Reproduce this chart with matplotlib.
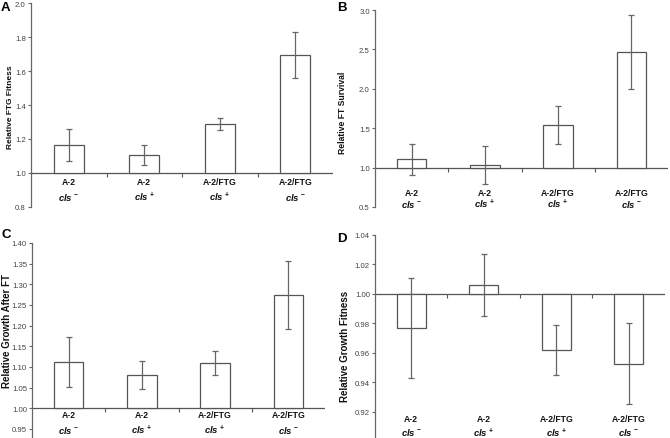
import matplotlib
matplotlib.use("Agg")
import matplotlib.pyplot as plt
import matplotlib.transforms as mtransforms
import numpy as np

plt.rcParams['font.family'] = ['Liberation Sans', 'DejaVu Sans']
plt.rcParams['mathtext.fontset'] = 'custom'
plt.rcParams['mathtext.it'] = 'Liberation Sans:italic:bold'
plt.rcParams['mathtext.rm'] = 'Liberation Sans:bold'

strains = ["A-2", "A-2", "A-2/FTG", "A-2/FTG"]
cls_signs = ["-", "+", "+", "-"]

# Panel A
a_vals = [1.165, 1.105, 1.290, 1.695]
a_lo = [1.070, 1.045, 1.255, 1.560]
a_hi = [1.260, 1.165, 1.325, 1.830]
# Panel B
b_vals = [1.110, 1.035, 1.545, 2.465]
b_lo = [0.910, 0.790, 1.300, 2.000]
b_hi = [1.305, 1.280, 1.780, 2.940]
# Panel C
c_vals = [1.112, 1.081, 1.110, 1.274]
c_lo = [1.052, 1.047, 1.081, 1.191]
c_hi = [1.172, 1.115, 1.139, 1.356]
# Panel D
d_vals = [0.977, 1.006, 0.962, 0.952]
d_lo = [0.943, 0.985, 0.945, 0.925]
d_hi = [1.011, 1.027, 0.979, 0.980]

a_ticks = [0.8, 1.0, 1.2, 1.4, 1.6, 1.8, 2.0]
b_ticks = [0.5, 1.0, 1.5, 2.0, 2.5, 3.0]
c_ticks = [0.95, 1.00, 1.05, 1.10, 1.15, 1.20, 1.25, 1.30, 1.35, 1.40]
d_ticks = [0.92, 0.94, 0.96, 0.98, 1.00, 1.02, 1.04]

W, H = 670, 439
fig = plt.figure(figsize=(W / 100, H / 100), dpi=100)

def rect(l, r, t, b):
    return [l / W, 1 - b / H, (r - l) / W, (b - t) / H]

GRAY = '#555555'

panels = [
    dict(letter='A', rect=rect(31, 333, 4, 208), vals=a_vals, lo=a_lo, hi=a_hi,
         ylim=(0.8, 2.0), ticks=a_ticks, fmt='{:.1f}', ylabel='Relative FTG Fitness',
         lab_y=(0.123, 0.052), letter_xy=(1, 8), ylab_xy=(11, 107), ylab_fs=6.0),
    dict(letter='B', rect=rect(375, 668, 11, 208), vals=b_vals, lo=b_lo, hi=b_hi,
         ylim=(0.5, 3.0), ticks=b_ticks, fmt='{:.1f}', ylabel='Relative FT Survival',
         lab_y=(0.072, 0.016), letter_xy=(337, 8), ylab_xy=(342, 113), ylab_fs=6.2),
    dict(letter='C', rect=rect(32, 325, 244, 439), vals=c_vals, lo=c_lo, hi=c_hi,
         ylim=(0.928, 1.40), ticks=c_ticks, fmt='{:.2f}', ylabel='Relative Growth After FT',
         lab_y=(0.123, 0.046), letter_xy=(1, 235), ylab_xy=(7, 331), ylab_fs=7.0),
    dict(letter='D', rect=rect(375, 665, 236, 439), vals=d_vals, lo=d_lo, hi=d_hi,
         ylim=(0.902, 1.04), ticks=d_ticks, fmt='{:.2f}', ylabel='Relative Growth Fitness',
         lab_y=(0.094, 0.030), letter_xy=(337, 239), ylab_xy=(345, 346), ylab_fs=7.0),
]

for p in panels:
    ax = fig.add_axes(p['rect'])
    x = np.arange(len(p['vals']))
    vals = np.array(p['vals'])
    base = 1.0
    heights = vals - base
    yerr = [vals - np.array(p['lo']), np.array(p['hi']) - vals]
    ax.bar(x, heights, bottom=base, width=0.4, facecolor='white',
           edgecolor=GRAY, linewidth=0.9, zorder=2)
    ax.errorbar(x, vals, yerr=yerr, fmt='none', ecolor='#666666',
                elinewidth=0.9, capsize=2, capthick=0.9, zorder=3)
    ax.axhline(base, color=GRAY, linewidth=0.9, zorder=1)
    bx = np.arange(len(p['vals']) - 1) + 0.5
    ax.plot(bx, np.full(len(bx), base), linestyle='none', marker=3,
            markersize=3, color=GRAY, markeredgewidth=0.8)
    ax.set_xlim(-0.5, len(p['vals']) - 0.5)
    ax.set_ylim(*p['ylim'])
    ax.set_yticks(p['ticks'])
    ax.set_yticklabels([p['fmt'].format(t) for t in p['ticks']])
    ax.set_xticks([])
    for s in ['top', 'right', 'bottom']:
        ax.spines[s].set_visible(False)
    ax.spines['left'].set_color('#666666')
    ax.spines['left'].set_linewidth(0.9)
    ax.tick_params(axis='y', direction='out', length=2.5, width=0.8,
                   color='#666666', labelsize=5.6, labelcolor='#444444', pad=1.2)
    ax.patch.set_alpha(0)
    trans = mtransforms.blended_transform_factory(ax.transData, ax.transAxes)
    for i in range(len(p['vals'])):
        ax.text(x[i], p['lab_y'][0], strains[i], transform=trans, ha='center',
                va='center', fontsize=6.2, fontweight='bold', color='#111111')
        ax.text(x[i], p['lab_y'][1], r'$\mathit{cls}^{\,' + cls_signs[i] + '}$',
                transform=trans, ha='center', va='center', fontsize=6.8, color='#111111')
    fig.text(p['ylab_xy'][0] / W, 1 - p['ylab_xy'][1] / H, p['ylabel'],
             rotation=90, ha='center', va='center', fontsize=p['ylab_fs'],
             fontweight='bold', color='#111111')
    fig.text(p['letter_xy'][0] / W, 1 - p['letter_xy'][1] / H, p['letter'],
             ha='left', va='center', fontsize=9.5, fontweight='bold', color='black')

fig.savefig('out.png', dpi=100)
